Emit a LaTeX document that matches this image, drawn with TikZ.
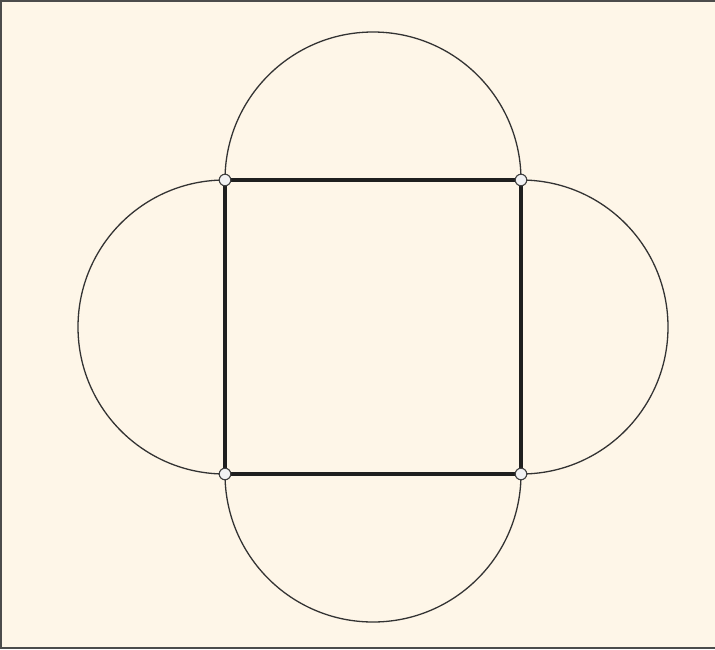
\documentclass[tikz,border=0pt]{standalone}
\begin{document}
\begin{tikzpicture}[x=1pt,y=-1pt,
  arcline/.style={line width=1.3pt, draw=black!80},
  sqline/.style={line width=4.6pt, draw=black!88},
  vdot/.style={circle, draw=black!75, line width=1.1pt, fill=blue!4!gray!10, minimum size=11.5pt, inner sep=0pt}]
\definecolor{bgcream}{HTML}{FEF6E8}
\fill[bgcream] (0,0) rectangle (715,649);
\useasboundingbox (0,0) rectangle (715,649);
\coordinate (A) at (225,180);
\coordinate (B) at (521,180);
\coordinate (C) at (521,474);
\coordinate (D) at (225,474);
\draw[arcline] (A) arc[start angle=180, end angle=0, x radius=148, y radius=-148];
\draw[arcline] (B) arc[start angle=90, end angle=-90, x radius=147, y radius=-147];
\draw[arcline] (C) arc[start angle=0, end angle=-180, x radius=148, y radius=-148];
\draw[arcline] (D) arc[start angle=-90, end angle=-270, x radius=147, y radius=-147];
\draw[sqline] (A) -- (B) -- (C) -- (D) -- cycle;
\node[vdot] (a) at (A) {};
\node[vdot] (b) at (B) {};
\node[vdot] (c) at (C) {};
\node[vdot] (d) at (D) {};
\draw[line width=2pt, draw=black!70] (715,1) -- (1,1) -- (1,648) -- (715,648);
\end{tikzpicture}
\end{document}
